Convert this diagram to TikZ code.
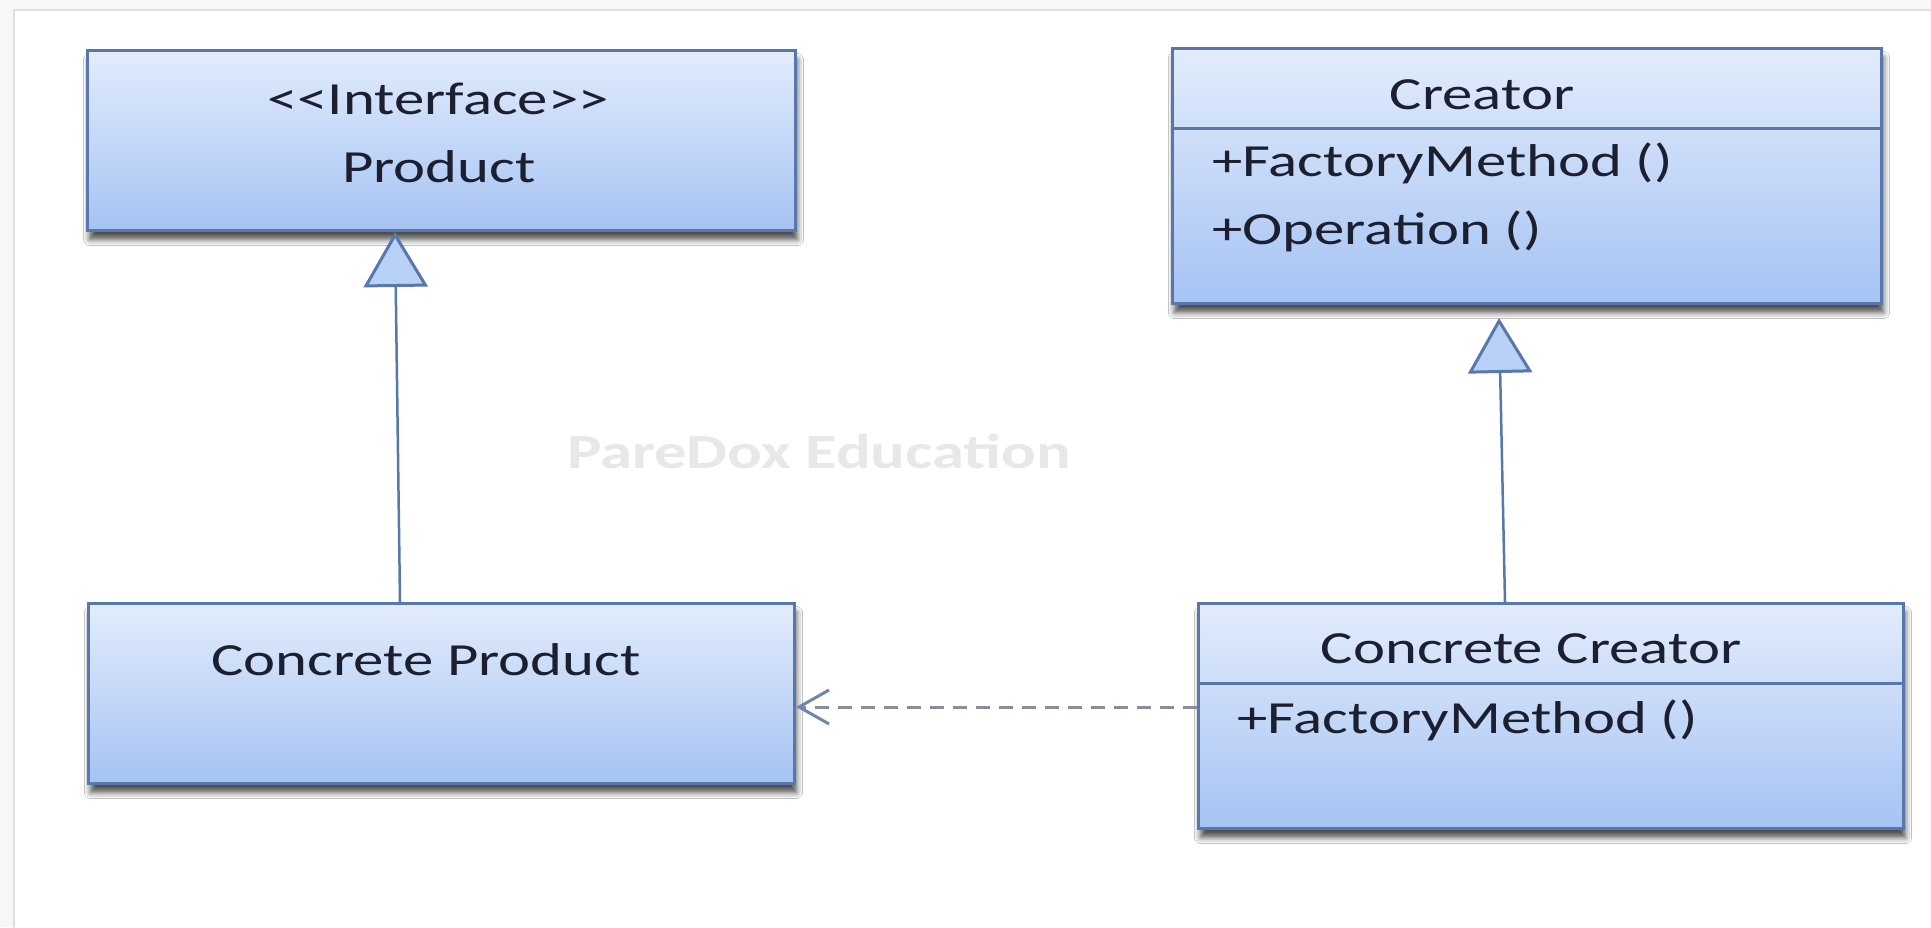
\documentclass[tikz,border=0pt]{standalone}
\usepackage{fontspec}
\setmainfont{Carlito}[FakeStretch=1.32]
\usetikzlibrary{arrows.meta,calc,shadows.blur}

\definecolor{boxtop}{HTML}{E2ECFC}
\definecolor{boxbot}{HTML}{A6C3F3}
\definecolor{boxline}{HTML}{5877AD}
\definecolor{txtcol}{HTML}{1B1F30}
\definecolor{depline}{HTML}{878E9C}
\definecolor{deptip}{HTML}{7186AE}
\definecolor{tipfill}{HTML}{B9D0F7}
\definecolor{wmgray}{HTML}{E8E8E8}

\tikzset{
  umlbox/.style={rectangle, draw=boxline, line width=3pt,
    top color=boxtop, bottom color=boxbot, anchor=north west, inner sep=0pt,
    blur shadow={shadow xshift=2pt, shadow yshift=-9pt,
      shadow blur radius=6pt, shadow opacity=70}},
  lbl/.style={font=\fontsize{46}{55}\selectfont, text=txtcol, inner sep=0pt, anchor=base},
  member/.style={lbl, anchor=base west},
  divider/.style={draw=boxline, line width=3pt},
  inherit/.style={draw=boxline, line width=2.5pt,
    -{Triangle[length=55pt, width=64pt, fill=tipfill, line width=3pt]}},
  depend/.style={draw=depline, line width=3pt, dash pattern=on 14pt off 9pt,
    -{Straight Barb[length=30pt, width=34pt, line width=3pt, color=deptip]}},
  wmark/.style={font=\bfseries\fontsize{49}{58}\selectfont, text=wmgray, inner sep=0pt, anchor=base}
}

\begin{document}
\begin{tikzpicture}[x=1pt, y=-1pt]
  \useasboundingbox (0,0) rectangle (1931,927);
  % page frame
  \fill[gray!6] (0,0) rectangle (1931,927);
  \draw[gray!25, line width=1.5pt, fill=white] (14,10) rectangle (1945,940);

  % watermark
  \node[wmark] (wm) at (819,468) {PareDox Education};

  % class boxes
  \node[umlbox, minimum width=708pt, minimum height=180pt] (prod) at (86,49) {};
  \node[umlbox, minimum width=709pt, minimum height=255pt] (creator) at (1171,47) {};
  \node[umlbox, minimum width=706pt, minimum height=180pt] (cprod) at (87,602) {};
  \node[umlbox, minimum width=705pt, minimum height=225pt] (ccreator) at (1197,602) {};

  % compartment dividers
  \draw[divider] (creator.west |- 0,128) -- (creator.east |- 0,128);
  \draw[divider] (ccreator.west |- 0,683) -- (ccreator.east |- 0,683);

  % texts
  \node[lbl] (iface) at (438,114) {<\kern0pt<Interface>\kern0pt>};
  \node[lbl] (prodname) at (439,182) {Product};
  \node[lbl] (creatorname) at (1482,109) {Creator};
  \node[member] (cfm) at (1212,176) {+FactoryMethod ()};
  \node[member] (cop) at (1212,244) {+Operation ()};
  \node[lbl] (cprodname) at (426,675) {Concrete Product};
  \node[lbl] (ccname) at (1531,663) {Concrete Creator};
  \node[member] (ccfm) at (1237,733) {+FactoryMethod ()};

  % generalisations
  \draw[inherit] ($(cprod.north west)+(313,0)$) -- ($(prod.south west)+(309,0)$);
  \draw[inherit] ($(ccreator.north west)+(308,0)$) -- ($(creator.south west)+(328,13)$);

  % dependency
  \draw[depend] (ccreator.west |- 0,707) -- (cprod.east |- 0,707);
\end{tikzpicture}
\end{document}
